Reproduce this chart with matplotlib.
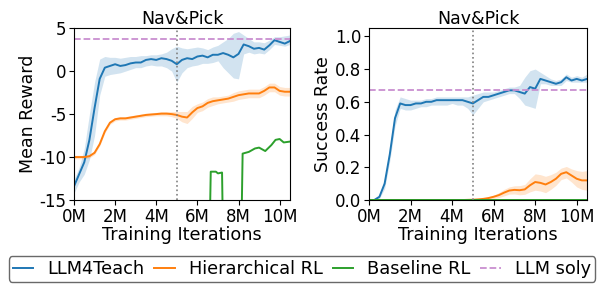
import matplotlib
matplotlib.use("Agg")
import matplotlib.pyplot as plt
import numpy as np

# ---------------- data ----------------
iters = [0.0, 0.25, 0.5, 0.75, 1.0, 1.25, 1.5, 1.75, 2.0, 2.25, 2.5, 2.75, 3.0, 3.25,
         3.5, 3.75, 4.0, 4.25, 4.5, 4.75, 5.0, 5.25, 5.5, 5.75, 6.0, 6.25, 6.5, 6.75,
         7.0, 7.25, 7.5, 7.75, 8.0, 8.25, 8.5, 8.75, 9.0, 9.25, 9.5, 9.75, 10.0, 10.25, 10.5]

# Mean reward, LLM4Teach
teach_reward = [-13.4, -12.0, -10.6, -8.0, -4.3, -0.9, 0.4, 0.6, 0.8, 0.6, 0.7, 0.9, 1.0, 1.0,
                1.3, 1.4, 1.3, 1.5, 1.4, 1.2, 0.8, 1.3, 1.5, 1.4, 1.7, 1.8, 1.6, 1.9,
                1.9, 2.1, 1.9, 1.6, 2.0, 3.1, 2.9, 2.6, 2.7, 2.5, 3.0, 3.6, 3.4, 3.2, 3.5]
teach_reward_lo = [-14.2, -12.9, -12.0, -10.3, -7.5, -2.8, -0.6, -0.4, -0.3, -0.2, 0.0, 0.2, 0.4, 0.4,
                   0.6, 0.7, 0.6, 0.6, 0.4, 0.0, -1.3, -0.2, 0.4, 0.6, 0.7, 0.9, 0.9, 1.0,
                   1.2, 0.4, -0.2, -0.8, -0.9, 2.0, 2.2, 2.0, 2.1, 2.0, 2.5, 3.1, 3.0, 2.9, 3.1]
teach_reward_hi = [-12.6, -11.2, -9.0, -5.0, -1.3, 1.4, 1.7, 1.6, 1.6, 1.5, 1.6, 1.7, 1.7, 1.8,
                   1.8, 1.9, 1.9, 2.0, 2.2, 2.6, 2.9, 2.7, 2.6, 2.7, 2.8, 2.7, 2.5, 2.8,
                   3.0, 3.4, 3.8, 4.4, 4.6, 4.2, 3.8, 3.4, 3.4, 3.3, 3.6, 4.0, 4.0, 4.1, 4.2]

# Mean reward, Hierarchical RL
hrl_reward = [-10.0, -10.0, -10.0, -9.9, -9.5, -8.5, -7.0, -6.0, -5.6, -5.5, -5.5, -5.4, -5.3, -5.2,
              -5.1, -5.05, -5.0, -4.95, -4.95, -5.0, -5.1, -5.3, -5.4, -4.8, -4.3, -4.1, -3.7, -3.5,
              -3.4, -3.3, -3.2, -3.0, -2.8, -2.7, -2.6, -2.6, -2.6, -2.3, -1.9, -1.9, -2.3, -2.4, -2.4]
hrl_reward_hw = [0.2, 0.2, 0.2, 0.2, 0.2, 0.2, 0.2, 0.2, 0.2, 0.2, 0.2, 0.2, 0.2, 0.2,
                 0.2, 0.2, 0.2, 0.25, 0.25, 0.3, 0.4, 0.6, 0.7, 0.7, 0.5, 0.5, 0.5, 0.5,
                 0.4, 0.4, 0.4, 0.5, 0.5, 0.5, 0.5, 0.5, 0.5, 0.5, 0.5, 0.5, 0.5, 0.5, 0.5]

# Mean reward, Baseline RL (values below -15 are off the chart)
base_iters = [0.0, 6.55, 6.65, 6.9, 7.0, 7.2, 7.28, 8.1, 8.2, 8.5, 8.8, 9.0, 9.3, 9.6, 9.8, 10.0, 10.2, 10.5]
base_reward = [-25.0, -25.0, -11.7, -11.7, -11.9, -11.8, -25.0, -25.0, -9.6, -9.4, -9.0, -8.9, -9.3,
               -8.6, -8.0, -7.9, -8.3, -8.2]

# Success rate, LLM4Teach
teach_sr = [0.0, 0.0, 0.02, 0.10, 0.28, 0.50, 0.59, 0.58, 0.58, 0.59, 0.59, 0.60, 0.60, 0.61,
            0.61, 0.61, 0.61, 0.61, 0.61, 0.60, 0.59, 0.61, 0.63, 0.63, 0.64, 0.65, 0.66, 0.67,
            0.67, 0.66, 0.65, 0.69, 0.68, 0.74, 0.73, 0.72, 0.71, 0.72, 0.75, 0.73, 0.74, 0.73, 0.74]
teach_sr_lo = [0.0, 0.0, 0.01, 0.07, 0.24, 0.45, 0.56, 0.55, 0.55, 0.56, 0.57, 0.57, 0.58, 0.58,
               0.58, 0.58, 0.59, 0.58, 0.58, 0.56, 0.52, 0.56, 0.60, 0.61, 0.62, 0.63, 0.64, 0.65,
               0.65, 0.62, 0.58, 0.57, 0.56, 0.71, 0.71, 0.70, 0.70, 0.70, 0.73, 0.72, 0.72, 0.72, 0.72]
teach_sr_hi = [0.0, 0.01, 0.03, 0.13, 0.32, 0.55, 0.63, 0.62, 0.61, 0.61, 0.61, 0.62, 0.62, 0.63,
               0.63, 0.63, 0.63, 0.63, 0.63, 0.63, 0.64, 0.65, 0.66, 0.66, 0.66, 0.67, 0.68, 0.69,
               0.69, 0.70, 0.75, 0.79, 0.80, 0.78, 0.76, 0.74, 0.73, 0.74, 0.77, 0.75, 0.76, 0.75, 0.77]

# Success rate, Hierarchical RL
hrl_sr = [0.0, 0.0, 0.0, 0.0, 0.0, 0.0, 0.0, 0.0, 0.0, 0.0, 0.0, 0.0, 0.0, 0.0,
          0.0, 0.0, 0.0, 0.0, 0.0, 0.001, 0.002, 0.004, 0.007, 0.012, 0.02, 0.03, 0.045, 0.058,
          0.062, 0.060, 0.065, 0.09, 0.11, 0.105, 0.095, 0.11, 0.13, 0.16, 0.17, 0.15, 0.13, 0.12, 0.12]
hrl_sr_hw = [0.0, 0.0, 0.0, 0.0, 0.0, 0.0, 0.0, 0.0, 0.0, 0.0, 0.0, 0.0, 0.0, 0.0,
             0.0, 0.0, 0.0, 0.0, 0.0, 0.001, 0.002, 0.003, 0.005, 0.008, 0.01, 0.015, 0.02, 0.022,
             0.025, 0.028, 0.03, 0.04, 0.05, 0.05, 0.05, 0.045, 0.04, 0.035, 0.035, 0.04, 0.05, 0.055, 0.06]

# Success rate, Baseline RL
base_sr_iters = [0.0, 10.5]
base_sr = [0.0, 0.0]

llm_soly_reward = 3.7
llm_soly_sr = 0.67
switch_iter = 5.0

x_ticks = [0, 2, 4, 6, 8, 10]
x_ticklabels = ["0M", "2M", "4M", "6M", "8M", "10M"]
reward_ticks = [-15, -10, -5, 0, 5]
sr_ticks = [0.0, 0.2, 0.4, 0.6, 0.8, 1.0]

# ---------------- plot ----------------
plt.rcParams['font.family'] = ['DejaVu Sans']
BLUE, ORANGE, GREEN = '#1f77b4', '#ff7f0e', '#2ca02c'
PURPLE = '#c98fd0'

fig = plt.figure(figsize=(6.04, 2.87), dpi=100)
ax1 = fig.add_axes([0.1225, 0.303, 0.3575, 0.599])
ax2 = fig.add_axes([0.611, 0.303, 0.361, 0.599])

it = np.array(iters)

# left
ax1.fill_between(it, teach_reward_lo, teach_reward_hi, color=BLUE, alpha=0.2, lw=0)
ax1.plot(it, teach_reward, color=BLUE, lw=1.4, label='LLM4Teach')
hr = np.array(hrl_reward); hw = np.array(hrl_reward_hw)
ax1.fill_between(it, hr - hw, hr + hw, color=ORANGE, alpha=0.2, lw=0)
ax1.plot(it, hr, color=ORANGE, lw=1.4, label='Hierarchical RL')
ax1.plot(base_iters, base_reward, color=GREEN, lw=1.4, label='Baseline RL')
ax1.axhline(llm_soly_reward, color=PURPLE, ls='--', lw=1.3, label='LLM soly')
ax1.axvline(switch_iter, color='gray', ls=':', lw=1.2)
ax1.set_xlim(0, 10.5)
ax1.set_ylim(-15, 5)
ax1.set_yticks(reward_ticks)
ax1.set_yticklabels([str(v) for v in reward_ticks])
ax1.set_ylabel('Mean Reward', fontsize=12.5, labelpad=2)

# right
ax2.fill_between(it, teach_sr_lo, teach_sr_hi, color=BLUE, alpha=0.2, lw=0)
ax2.plot(it, teach_sr, color=BLUE, lw=1.4)
hs = np.array(hrl_sr); hsw = np.array(hrl_sr_hw)
ax2.fill_between(it, hs - hsw, hs + hsw, color=ORANGE, alpha=0.2, lw=0)
ax2.plot(it, hs, color=ORANGE, lw=1.4)
ax2.plot(base_sr_iters, base_sr, color=GREEN, lw=1.4)
ax2.axhline(llm_soly_sr, color=PURPLE, ls='--', lw=1.3)
ax2.axvline(switch_iter, color='gray', ls=':', lw=1.2)
ax2.set_xlim(0, 10.5)
ax2.set_ylim(0, 1.05)
ax2.set_yticks(sr_ticks)
ax2.set_yticklabels([f"{v:.1f}" for v in sr_ticks])
ax2.set_ylabel('Success Rate', fontsize=12.5, labelpad=2)

for ax in (ax1, ax2):
    ax.set_xticks(x_ticks)
    ax.set_xticklabels(x_ticklabels)
    ax.tick_params(labelsize=12, length=3.5, pad=2)
    ax.set_title('Nav&Pick', fontsize=12.5, pad=3)
    ax.set_xlabel('Training Iterations', fontsize=12.7, labelpad=0)

fig.legend(loc='center', bbox_to_anchor=(0.5, 0.0627), ncol=4, fontsize=12.8,
           handlelength=1.15, columnspacing=0.55, handletextpad=0.8,
           borderpad=0.22, borderaxespad=0.2, fancybox=True, edgecolor='#444444')

fig.savefig('out.png', dpi=100)
